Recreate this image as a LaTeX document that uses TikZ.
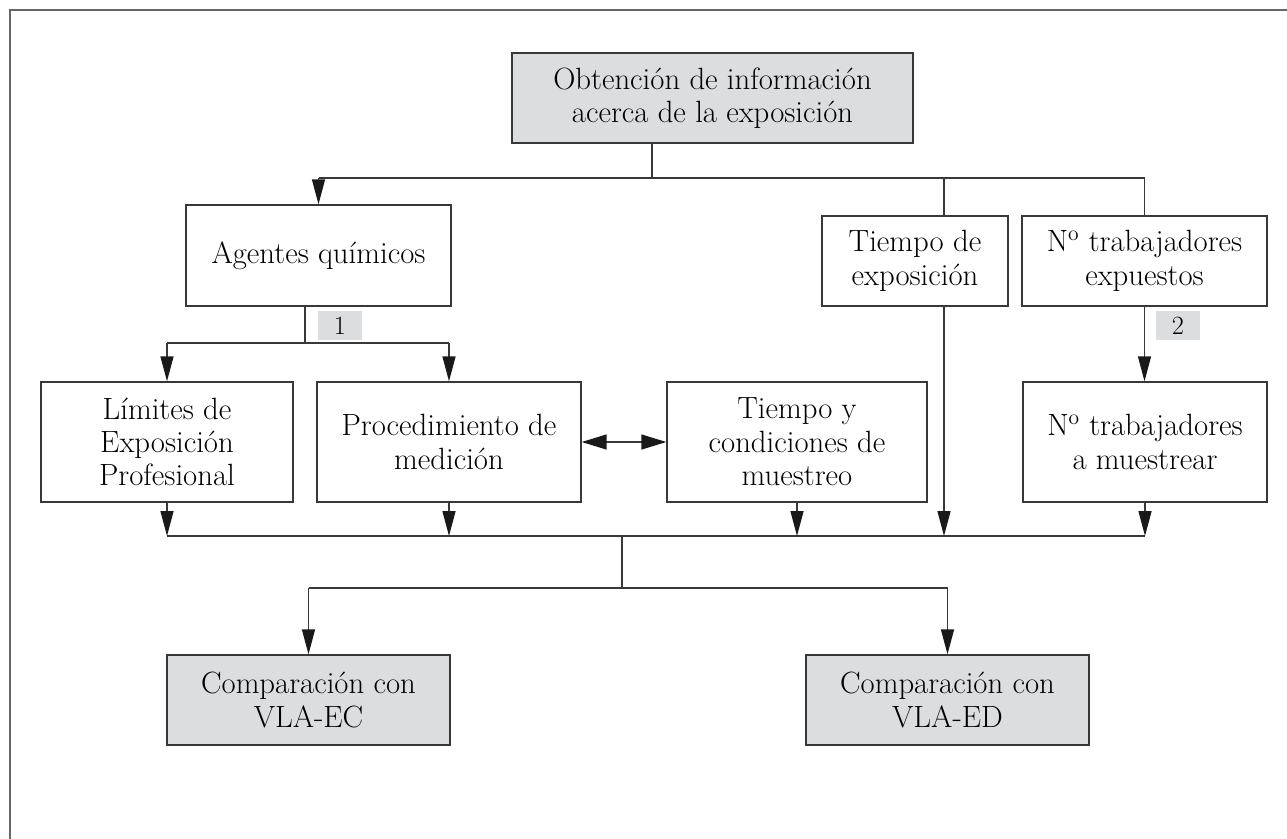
\documentclass[tikz,border=0pt]{standalone}
\usetikzlibrary{arrows.meta}
\definecolor{cajagris}{HTML}{DCDDDF}
\definecolor{lineagris}{HTML}{383838}

\begin{document}
\begin{tikzpicture}[x=0.02cm, y=-0.02cm,
  caja/.style={draw=lineagris, line width=0.8pt, align=center, inner sep=0pt, minimum height=1.8cm, font=\fontsize{17.5}{19}\selectfont},
  cajaoscura/.style={caja, fill=cajagris},
  etiqueta/.style={fill=cajagris, inner sep=0pt, minimum width=0.88cm, minimum height=0.58cm, font=\fontsize{15}{17}\selectfont},
  linea/.style={draw=lineagris, line width=0.8pt},
  flecha/.style={linea, -{Triangle[length=0.5cm, width=0.26cm, color=black!90]}}]
	\useasboundingbox (0,0) rectangle (1287,838);
	\clip (0,0) rectangle (1287,838);
	\draw[color=gray!80!black, line width=1.2pt] (10,10) rectangle (1300,850);
	% cajas
	\node[cajaoscura, minimum width=8.02cm] (obtencion) at (712.5,98) {Obtención de información\\acerca de la exposición};
	\node[caja, minimum width=5.3cm, minimum height=2.02cm] (agentes) at (318.5,255.5) {Agentes químicos};
	\node[caja, minimum width=3.72cm] (tiempoexp) at (915,261) {Tiempo de\\exposición};
	\node[caja, minimum width=4.9cm] (expuestos) at (1144.5,261) {N\textsuperscript{o} trabajadores\\expuestos};
	\node[caja, minimum width=5.04cm, minimum height=2.4cm] (limites) at (167,442) {Límites de\\Exposición\\Profesional};
	\node[caja, minimum width=5.28cm, minimum height=2.4cm] (procedimiento) at (449,442) {Procedimiento de\\medición};
	\node[caja, minimum width=5.2cm, minimum height=2.4cm] (muestreo) at (797,442) {Tiempo y\\condiciones de\\muestreo};
	\node[caja, minimum width=4.88cm, minimum height=2.4cm] (muestrear) at (1145,442) {N\textsuperscript{o} trabajadores\\a muestrear};
	\node[cajaoscura, minimum width=5.66cm] (vlaec) at (308.5,700) {Comparación con\\VLA-EC};
	\node[cajaoscura, minimum width=5.66cm] (vlaed) at (947.5,700) {Comparación con\\VLA-ED};
	\node[etiqueta] (uno) at (340,325.5) {1};
	\node[etiqueta] (dos) at (1178,325.5) {2};
	% ramas
	\coordinate (ramaA) at (652,178);
	\coordinate (tiempo) at (944,178);
	\coordinate (ramaB) at (305,343);
	\coordinate (ramaC) at (622,536);
	\coordinate (ramaD) at (622,588);
	\draw[linea] (obtencion.south -| ramaA) -- (ramaA);
	\draw[linea] (agentes.north |- ramaA) -- (expuestos.north |- ramaA);
	\draw[flecha] (agentes.north |- ramaA) -- (agentes.north);
	\draw[linea] (tiempo) -- (tiempo |- tiempoexp.north);
	\draw[linea] (expuestos.north |- ramaA) -- (expuestos.north);
	\draw[linea] (ramaB |- agentes.south) -- (ramaB);
	\draw[linea] (limites.north |- ramaB) -- (procedimiento.north |- ramaB);
	\foreach \n in {limites, procedimiento}
	  \draw[flecha] (\n.north |- ramaB) -- (\n.north);
	\draw[flecha] (expuestos.south) -- (expuestos.south |- muestrear.north);
	\draw[linea, {Triangle[length=0.5cm, width=0.3cm, color=black!90]}-{Triangle[length=0.5cm, width=0.3cm, color=black!90]}] (procedimiento.east) -- (muestreo.west);
	\draw[linea] (limites.south |- ramaC) -- (muestrear.south |- ramaC);
	\foreach \n in {limites, procedimiento, muestreo, muestrear}
	  \draw[flecha] (\n.south) -- (\n.south |- ramaC);
	\draw[flecha] (tiempo |- tiempoexp.south) -- (tiempo |- ramaC);
	\draw[linea] (ramaC) -- (ramaD);
	\draw[linea] (vlaec.north |- ramaD) -- (vlaed.north |- ramaD);
	\draw[flecha] (vlaec.north |- ramaD) -- (vlaec.north);
	\draw[flecha] (vlaed.north |- ramaD) -- (vlaed.north);
\end{tikzpicture}
\end{document}
